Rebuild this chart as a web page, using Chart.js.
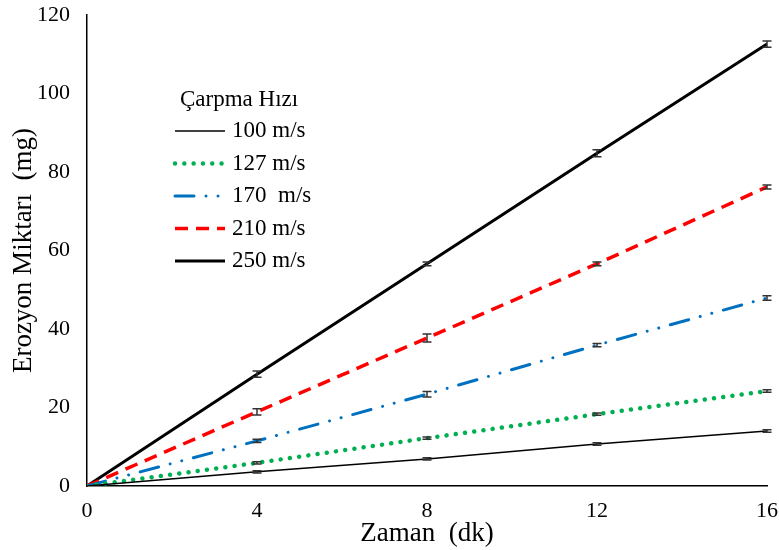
<!DOCTYPE html>
<html>
<head>
<meta charset="utf-8">
<title>Erozyon Miktarı</title>
<script src="https://cdn.jsdelivr.net/npm/chart.js@4/dist/chart.umd.min.js"></script>
<style>
  html, body { margin: 0; padding: 0; background: #fff; }
  .chart-box { width: 779px; height: 550px; position: relative; }
</style>
</head>
<body>
<div class="chart-box"><canvas id="myChart"></canvas></div>
<script>
// zaman (dk)
const times = [0, 4, 8, 12, 16];
const xTicks = [0, 4, 8, 12, 16];
const yTicks = [0, 20, 40, 60, 80, 100, 120];

const seriesNames = ['100 m/s', '127 m/s', '170  m/s', '210 m/s', '250 m/s'];

// erozyon miktari (mg)
const v100 = [0, 3.6, 6.9, 10.7, 14.0];
const v127 = [0, 5.9, 12.2, 18.3, 24.2];
const v170 = [0, 11.5, 23.4, 35.9, 47.9];
const v210 = [0, 18.9, 37.7, 56.6, 76.2];
const v250 = [0, 28.5, 56.6, 84.8, 112.6];

// error bars (+/-)
const e100 = [0, 0.3, 0.3, 0.3, 0.3];
const e127 = [0, 0.3, 0.3, 0.3, 0.3];
const e170 = [0, 0.4, 0.7, 0.4, 0.6];
const e210 = [0, 0.8, 1.0, 0.5, 0.5];
const e250 = [0, 0.8, 0.5, 0.9, 0.8];

const fontFamily = '"Liberation Serif", "Times New Roman", serif';

function toPoints(values) {
  return times.map((t, i) => ({ x: t, y: values[i] }));
}

// legend drawn inside the plot area, like the excel one
const insideLegend = {
  id: 'insideLegend',
  afterDraw(chart) {
    const ctx = chart.ctx;
    ctx.save();
    ctx.font = '23px ' + fontFamily;
    ctx.fillStyle = '#000';
    ctx.textBaseline = 'middle';
    ctx.textAlign = 'left';
    ctx.fillText('Çarpma Hızı', 180, 100);

    chart.data.datasets.forEach(function(ds, i) {
      const y = 131 + i * 32.5;
      ctx.beginPath();
      ctx.strokeStyle = ds.borderColor;
      ctx.lineWidth = ds.borderWidth;
      ctx.lineCap = ds.borderCapStyle || 'butt';
      ctx.setLineDash(ds.borderDash || []);
      ctx.moveTo(175, y);
      ctx.lineTo(225, y);
      ctx.stroke();
      ctx.setLineDash([]);
      ctx.fillText(ds.label, 232, y);
    });
    ctx.restore();
  }
};

const errorBars = {
  id: 'errorBars',
  afterDatasetsDraw(chart) {
    const ctx = chart.ctx;
    const yScale = chart.scales.y;
    ctx.save();
    ctx.strokeStyle = '#333333';
    ctx.lineWidth = 1.5;
    chart.data.datasets.forEach(function(ds, i) {
      const meta = chart.getDatasetMeta(i);
      meta.data.forEach(function(pt, j) {
        const err = ds.errors[j];
        if (!err) return;
        const v = ds.data[j].y;
        const yTop = yScale.getPixelForValue(v + err);
        const yBot = yScale.getPixelForValue(v - err);
        ctx.beginPath();
        ctx.moveTo(pt.x, yTop);
        ctx.lineTo(pt.x, yBot);
        ctx.moveTo(pt.x - 4.5, yTop);
        ctx.lineTo(pt.x + 4.5, yTop);
        ctx.moveTo(pt.x - 4.5, yBot);
        ctx.lineTo(pt.x + 4.5, yBot);
        ctx.stroke();
      });
    });
    ctx.restore();
  }
};

const ctx = document.querySelector('#myChart').getContext('2d');

// eslint-disable-next-line no-undef
const myChart = new Chart(ctx, {
  type: 'line',
  data: {
    datasets: [{
      label: seriesNames[0],
      data: toPoints(v100),
      errors: e100,
      borderColor: '#000000',
      borderWidth: 1.5,
    },
    {
      label: seriesNames[1],
      data: toPoints(v127),
      errors: e127,
      borderColor: '#00B050',
      borderWidth: 4.5,
      borderDash: [0.01, 9.3],
      borderCapStyle: 'round',
    },
    {
      label: seriesNames[2],
      data: toPoints(v170),
      errors: e170,
      borderColor: '#0070C0',
      borderWidth: 3,
      borderDash: [19, 12, 0.01, 12, 0.01, 12],
      borderCapStyle: 'round',
    },
    {
      label: seriesNames[3],
      data: toPoints(v210),
      errors: e210,
      borderColor: '#FF0000',
      borderWidth: 3.5,
      borderDash: [13, 8],
    },
    {
      label: seriesNames[4],
      data: toPoints(v250),
      errors: e250,
      borderColor: '#000000',
      borderWidth: 3,
    }]
  },
  options: {
    responsive: true,
    maintainAspectRatio: false,
    animation: false,
    elements: {
      point: { radius: 0, hoverRadius: 0 },
      line: { tension: 0 }
    },
    layout: {
      padding: { left: 0, right: 12, top: 15, bottom: 0 }
    },
    plugins: {
      legend: { display: false },
      tooltip: { enabled: false }
    },
    scales: {
      x: {
        type: 'linear',
        min: 0,
        max: 16,
        afterBuildTicks: function(scale) {
          scale.ticks = xTicks.map(v => ({ value: v }));
        },
        afterFit: function(scale) {
          scale.height = 64;
          scale.paddingLeft = 0;
          scale.paddingRight = 0;
        },
        grid: { display: false, drawTicks: false },
        border: { display: true, color: '#000', width: 1.5 },
        ticks: {
          color: '#000',
          padding: 12,
          maxRotation: 0,
          font: { family: fontFamily, size: 22 }
        },
        title: {
          display: true,
          text: 'Zaman  (dk)',
          color: '#000',
          padding: { top: 0, bottom: 0 },
          font: { family: fontFamily, size: 27 }
        }
      },
      y: {
        min: 0,
        max: 120,
        afterBuildTicks: function(scale) {
          scale.ticks = yTicks.map(v => ({ value: v }));
        },
        afterFit: function(scale) {
          scale.width = 87;
          scale.paddingTop = 0;
          scale.paddingBottom = 0;
        },
        grid: { display: false, drawTicks: false },
        border: { display: true, color: '#000', width: 1.5 },
        ticks: {
          color: '#000',
          padding: 17,
          font: { family: fontFamily, size: 22 }
        },
        title: {
          display: true,
          text: 'Erozyon Miktarı  (mg)',
          color: '#000',
          padding: { top: 8, bottom: 0 },
          font: { family: fontFamily, size: 27 }
        }
      }
    }
  },
  plugins: [errorBars, insideLegend]
});
</script>
</body>
</html>
